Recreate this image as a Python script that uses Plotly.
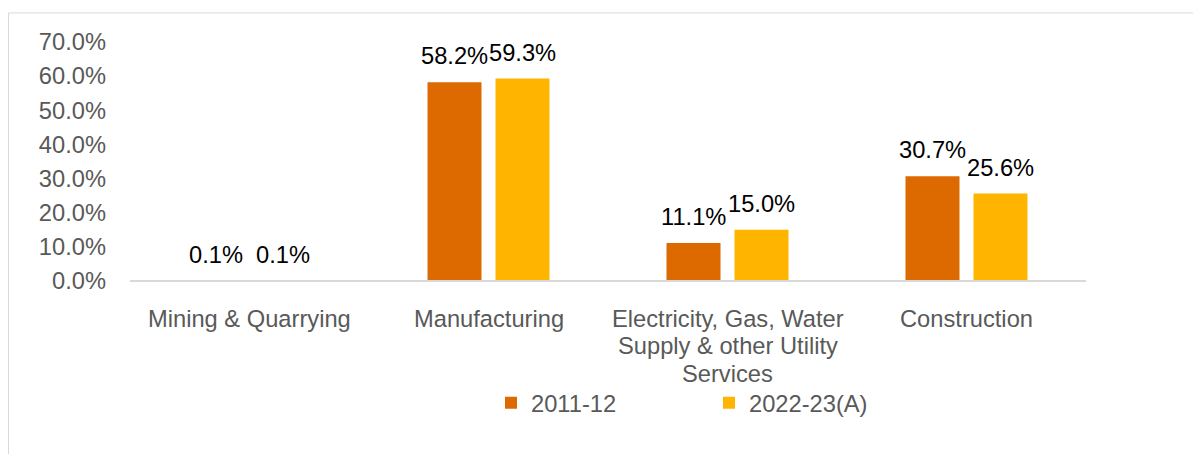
import plotly.graph_objects as go

categories = ["Mining & Quarrying", "Manufacturing",
              "Electricity, Gas, Water<br>Supply & other Utility<br>Services",
              "Construction"]
series_names = ["2011-12", "2022-23(A)"]
values_2011_12 = [0.1, 58.2, 11.1, 30.7]
values_2022_23 = [0.1, 59.3, 15.0, 25.6]
y_ticks = [0, 10, 20, 30, 40, 50, 60, 70]

colors = ["#DC6A00", "#FFB500"]
FONT = "Arial, 'Liberation Sans', sans-serif"
FS = 23.7

OFF = 8  # page body margin
W, H = 1201, 454
# reference-pixel positions of the plot area
L_ref, R_ref, T_ref, B_ref = 130, 1086, 41.6, 281
L, R, T, B = L_ref - OFF, R_ref - OFF, T_ref - OFF, B_ref - OFF

BARGAP, BARGROUPGAP = 0.431, 0.206
cat_px = (R - L) / len(categories)
slot_px = cat_px * (1 - BARGAP) / len(series_names)

fig = go.Figure()
for name, vals, col in zip(series_names, [values_2011_12, values_2022_23], colors):
    fig.add_trace(go.Bar(
        x=categories, y=[v / 100 for v in vals], name=name,
        marker=dict(color=col, line=dict(width=0)),
        cliponaxis=False,
    ))

def px_x(p):  # reference pixel -> paper
    return (p - OFF - L) / (R - L)

def px_y(p):
    return (B - (p - OFF)) / (B - T)

annotations = []
# data labels
for k, vals in enumerate([values_2011_12, values_2022_23]):
    shift = (k - (len(series_names) - 1) / 2) * slot_px
    for cat, v in zip(categories, vals):
        annotations.append(dict(
            x=cat, xref="x", y=v / 100, yref="y", xshift=shift, yshift=26,
            text=f"{v:.1f}%", showarrow=False, xanchor="center", yanchor="middle",
            font=dict(family=FONT, size=FS, color="#000000")))
# category labels
for cat in categories:
    for i, line in enumerate(cat.split("<br>")):
        annotations.append(dict(
            x=cat, xref="x", y=px_y(319 + 27.5 * i), yref="paper",
            text=line, showarrow=False, xanchor="center", yanchor="middle",
            font=dict(family=FONT, size=FS, color="#595959")))

fig.update_layout(
    width=W, height=H,
    margin=dict(l=L, r=W - R, t=T, b=H - B, pad=0),
    paper_bgcolor="white", plot_bgcolor="white",
    barmode="group", bargap=BARGAP, bargroupgap=BARGROUPGAP,
    font=dict(family=FONT, size=FS, color="#595959"),
    showlegend=True,
    legend=dict(orientation="h", x=px_x(491), xanchor="left", y=px_y(403), yanchor="middle",
                font=dict(family=FONT, size=FS, color="#595959"),
                entrywidth=173, bgcolor="rgba(0,0,0,0)"),
    xaxis=dict(showline=False, showgrid=False, zeroline=False,
               ticks="", showticklabels=False),
    yaxis=dict(range=[0, 0.70], tickvals=[t / 100 for t in y_ticks], tickformat=".1%",
               showgrid=False, showline=False, ticks="",
               zeroline=True, zerolinecolor="#D9D9D9", zerolinewidth=2,
               tickfont=dict(family=FONT, size=FS, color="#595959"),
               ticklabelstandoff=23),
    annotations=annotations,
    shapes=[dict(type="rect", xref="paper", yref="paper",
                 x0=px_x(8.5), x1=px_x(1225), y0=px_y(12.5), y1=px_y(480),
                 line=dict(color="#D9D9D9", width=1), fillcolor="rgba(0,0,0,0)", layer="below")],
)
try:
    fig.update_yaxes(zerolinelayer="above traces")
except Exception:
    pass

fig.write_html("out.html")
